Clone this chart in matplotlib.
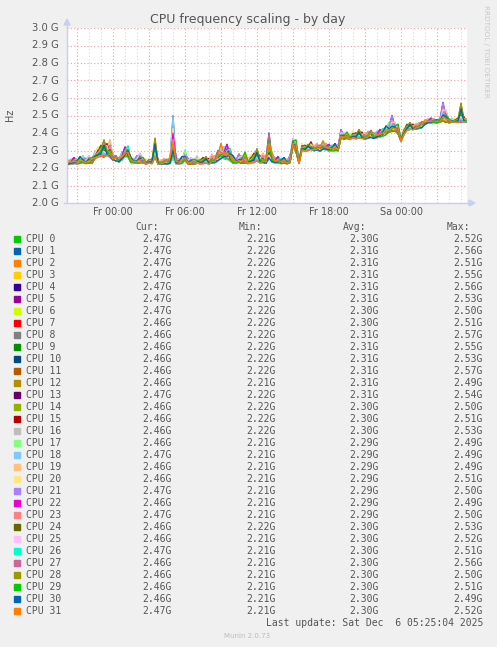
import numpy as np
import matplotlib
matplotlib.use("Agg")
import matplotlib.pyplot as plt
from matplotlib.patches import Rectangle, Polygon

W, H = 497, 647

# CPU frequency in GHz, sampled every 15 minutes from Thu 20:15 (hours rel. to Fr 00:00)
t_start = -3.75
step_h = 0.25
low = [2.220, 2.222, 2.225, 2.222, 2.226, 2.228, 2.224, 2.230, 2.226,
       2.252, 2.260, 2.265, 2.262, 2.270, 2.260,
       2.245, 2.240, 2.235,
       2.245, 2.265, 2.260,
       2.230, 2.228, 2.226, 2.230, 2.228, 2.222, 2.226, 2.224,
       2.260,
       2.222, 2.220, 2.224, 2.222, 2.226,
       2.250,
       2.224, 2.222, 2.226,
       2.240,
       2.222, 2.224, 2.220, 2.226, 2.222, 2.224, 2.226, 2.222, 2.228, 2.230,
       2.240, 2.255, 2.252, 2.248, 2.240,
       2.228, 2.226, 2.230, 2.226, 2.228, 2.224, 2.226, 2.230,
       2.240,
       2.228, 2.230, 2.226,
       2.250, 2.235,
       2.226, 2.228, 2.224, 2.226, 2.222, 2.228,
       2.330, 2.290, 2.225,
       2.300, 2.295, 2.300, 2.305, 2.298, 2.302, 2.296, 2.308, 2.302, 2.298, 2.295, 2.300, 2.295,
       2.370,
       2.365, 2.368, 2.362, 2.370, 2.366, 2.372, 2.368, 2.364, 2.370, 2.374, 2.368, 2.372, 2.376, 2.380,
       2.390, 2.400, 2.405, 2.410, 2.395,
       2.350, 2.390,
       2.415, 2.420, 2.418, 2.422, 2.426, 2.430,
       2.450, 2.455, 2.457, 2.459, 2.457, 2.460, 2.465, 2.460, 2.458, 2.460, 2.461, 2.459, 2.461, 2.463, 2.463]
high = [2.245, 2.250, 2.260, 2.250, 2.265, 2.270, 2.255, 2.270, 2.260,
        2.300, 2.320, 2.330, 2.360, 2.340, 2.360,
        2.280, 2.270, 2.260,
        2.290, 2.320, 2.325,
        2.260, 2.255, 2.270, 2.285, 2.260, 2.250, 2.255, 2.250,
        2.370,
        2.250, 2.245, 2.255, 2.250, 2.260,
        2.500,
        2.260, 2.250, 2.265,
        2.300,
        2.255, 2.260, 2.250, 2.270, 2.255, 2.260, 2.265, 2.255, 2.280, 2.270,
        2.300, 2.340, 2.320, 2.335, 2.310,
        2.270, 2.260, 2.280, 2.270, 2.290, 2.260, 2.275, 2.285,
        2.310,
        2.270, 2.285, 2.270,
        2.400, 2.290,
        2.260, 2.265, 2.255, 2.260, 2.250, 2.270,
        2.370, 2.360, 2.260,
        2.340, 2.330, 2.335, 2.350, 2.330, 2.340, 2.330, 2.355, 2.340, 2.335, 2.330, 2.340, 2.330,
        2.420,
        2.400, 2.405, 2.395, 2.410, 2.400, 2.420, 2.405, 2.400, 2.410, 2.415, 2.400, 2.410, 2.420, 2.425,
        2.440, 2.460, 2.500, 2.460, 2.450,
        2.390, 2.430,
        2.450, 2.460, 2.450, 2.455, 2.460, 2.465,
        2.475, 2.480, 2.485, 2.480, 2.475, 2.490, 2.575, 2.530, 2.480, 2.485, 2.480, 2.485, 2.570, 2.490, 2.480]
# where each core sits inside the band (0 = bottom edge, 1 = top edge)
wiggle = [0.05, 0.35, 0.15, 0.6, 0.25, 0.0, 0.45, 0.1, 1.0, 0.3, 0.2, 0.55, 0.08, 0.4, 0.7, 0.18, 0.28]

cpus = ["CPU %d" % i for i in range(32)]
colors = ["#00CC00", "#0066B3", "#FF8000", "#FFCC00", "#330099", "#990099", "#CCFF00", "#FF0000",
          "#808080", "#008F00", "#00487D", "#B35A00", "#B38F00", "#6B006B", "#8FB300", "#B30000",
          "#BEBEBE", "#80FF80", "#80C9FF", "#FFC080", "#FFE680", "#AA80FF", "#EE00CC", "#FF8080",
          "#666600", "#FFBFFF", "#00FFCC", "#CC6699", "#999900", "#00CC00", "#0066B3", "#FF8000"]
cur = ["2.47G"] * 7 + ["2.46G"] * 6 + ["2.47G"] + ["2.46G"] * 4 + ["2.47G"] + ["2.46G"] * 2 + \
      ["2.47G", "2.46G", "2.47G", "2.46G", "2.46G", "2.47G", "2.46G", "2.46G", "2.46G", "2.46G", "2.47G"]
mins = ["2.21G", "2.22G", "2.22G", "2.22G", "2.22G", "2.21G", "2.22G", "2.22G", "2.22G", "2.22G",
        "2.22G", "2.22G", "2.21G", "2.22G", "2.22G", "2.22G", "2.22G", "2.21G", "2.21G", "2.21G",
        "2.21G", "2.21G", "2.21G", "2.21G", "2.22G", "2.21G", "2.21G", "2.21G", "2.21G", "2.21G",
        "2.21G", "2.21G"]
avgs = ["2.30G", "2.31G", "2.31G", "2.31G", "2.31G", "2.31G", "2.30G", "2.30G", "2.31G", "2.31G",
        "2.31G", "2.31G", "2.31G", "2.31G", "2.30G", "2.30G", "2.30G", "2.29G", "2.29G", "2.29G",
        "2.29G", "2.29G", "2.29G", "2.29G", "2.30G", "2.30G", "2.30G", "2.30G", "2.30G", "2.30G",
        "2.30G", "2.30G"]
maxs = ["2.52G", "2.56G", "2.51G", "2.55G", "2.56G", "2.53G", "2.50G", "2.51G", "2.57G", "2.55G",
        "2.53G", "2.57G", "2.49G", "2.54G", "2.50G", "2.51G", "2.53G", "2.49G", "2.49G", "2.49G",
        "2.51G", "2.50G", "2.49G", "2.50G", "2.53G", "2.52G", "2.51G", "2.56G", "2.50G", "2.51G",
        "2.49G", "2.52G"]

yticks = [2.0, 2.1, 2.2, 2.3, 2.4, 2.5, 2.6, 2.7, 2.8, 2.9, 3.0]
xticks = [0, 6, 12, 18, 24]
xticklabels = ["Fr 00:00", "Fr 06:00", "Fr 12:00", "Fr 18:00", "Sa 00:00"]

low = np.array(low)
high = np.array(high)
hours = t_start + step_h * np.arange(len(low))

TXT = "#555555"
fig = plt.figure(figsize=(W / 100, H / 100), dpi=100, facecolor="#F0F0F0")


def fx(x):
    return x / W


def fy(y):
    return 1 - y / H


ax = fig.add_axes([fx(67), fy(203), 400 / W, 175 / H])
ax.set_facecolor("white")
xmin, xmax = -46 / 12, 354 / 12
ax.set_xlim(xmin, xmax)
ax.set_ylim(2.0, 3.0)

# grid: hourly minor, 3-hourly major, horizontal every 0.1 G
for h in range(-3, 30):
    if h % 3 == 0:
        ax.axvline(h, color="#F0A0A0", lw=0.8, ls=(0, (1, 2)), zorder=1)
    else:
        ax.axvline(h, color="#D8D8D8", lw=0.8, ls=(0, (1, 2)), zorder=1)
for v in yticks[1:]:
    ax.axhline(v, color="#F0A0A0", lw=0.8, ls=(0, (1, 2)), zorder=1)

n = len(wiggle)
for i in range(32):
    w = np.array([wiggle[(k * 5 + i * 3) % n] for k in range(len(low))])
    vals = low + (high - low) * w
    ax.plot(hours, vals, color=colors[i], lw=0.9, zorder=2)

for s in ax.spines.values():
    s.set_visible(False)
ax.set_xticks([])
ax.set_yticks([])

# axes with arrows
axc = "#C8D0F0"
fig.add_artist(plt.Line2D([fx(67), fx(67)], [fy(203), fy(24)], color=axc, lw=1, transform=fig.transFigure))
fig.add_artist(plt.Line2D([fx(64), fx(470)], [fy(203), fy(203)], color=axc, lw=1, transform=fig.transFigure))
fig.add_artist(Polygon([[fx(64), fy(25)], [fx(70), fy(25)], [fx(67), fy(19)]], closed=True,
                       color=axc, transform=fig.transFigure))
fig.add_artist(Polygon([[fx(469), fy(200)], [fx(469), fy(206)], [fx(475), fy(203)]], closed=True,
                       color=axc, transform=fig.transFigure))

for v in yticks:
    ypx = 203 - (v - 2.0) * 175
    fig.text(fx(59), fy(ypx), "%.1f G" % v, ha="right", va="center", fontsize=7.2, color=TXT)
for h, lab in zip(xticks, xticklabels):
    xpx = 67 + (h - xmin) * 12
    fig.text(fx(xpx), fy(212), lab, ha="center", va="center", fontsize=7.0, color=TXT)

fig.text(fx(10), fy(115), "Hz", rotation=90, ha="center", va="center", fontsize=7.0, color=TXT)
fig.text(fx(248), fy(19), "CPU frequency scaling - by day", ha="center", va="center",
         fontsize=9.0, color=TXT)
fig.text(fx(486), fy(5), "RRDTOOL / TOBI OETIKER", rotation=-90, ha="center", va="top",
         fontsize=5.2, color="#C8C8C8")

# legend
mono = "DejaVu Sans Mono"
fs = 7.0
for hx, lab in zip([159, 262, 366, 470], ["Cur:", "Min:", "Avg:", "Max:"]):
    fig.text(fx(hx), fy(227), lab, ha="right", va="center", family=mono, fontsize=fs, color=TXT)
for i in range(32):
    y = 239 + 12 * i
    fig.add_artist(Rectangle((fx(14), fy(y + 3)), 6 / W, 6 / H, color=colors[i],
                             transform=fig.transFigure))
    fig.text(fx(26), fy(y), cpus[i], ha="left", va="center", family=mono, fontsize=fs, color=TXT)
    for vx, col in zip([172, 276, 379, 483], [cur, mins, avgs, maxs]):
        fig.text(fx(vx), fy(y), col[i], ha="right", va="center", family=mono, fontsize=fs, color=TXT)

fig.text(fx(483), fy(623), "Last update: Sat Dec  6 05:25:04 2025", ha="right", va="center",
         family=mono, fontsize=fs, color=TXT)
fig.text(fx(247), fy(636), "Munin 2.0.73", ha="center", va="center", fontsize=5.0, color="#BBBBBB")

fig.savefig("out.png", dpi=100, facecolor=fig.get_facecolor())
